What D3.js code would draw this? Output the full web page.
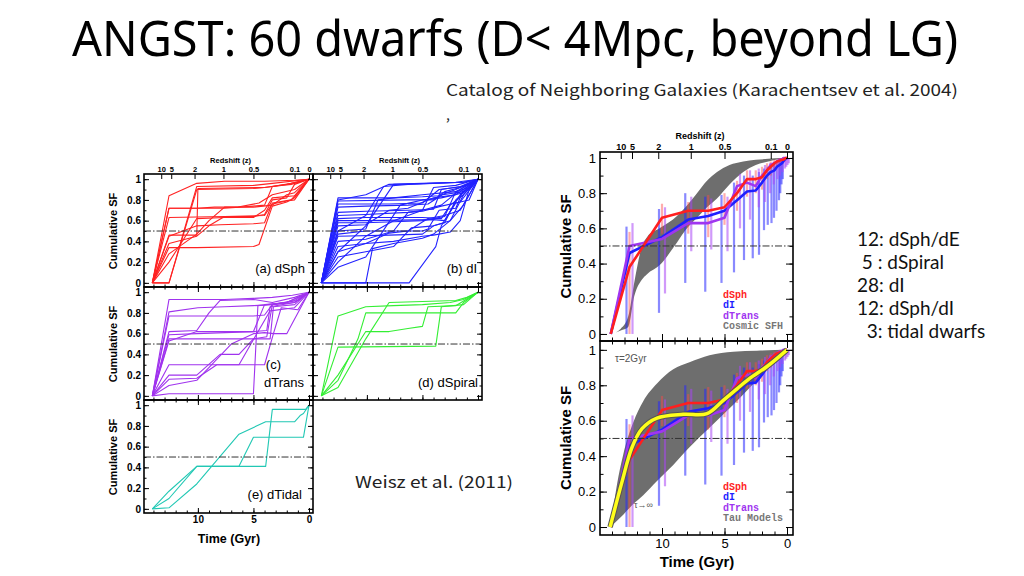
<!DOCTYPE html>
<html><head><meta charset="utf-8">
<script src="https://cdn.jsdelivr.net/npm/d3@7"></script>
<style>body{margin:0;background:#fff}svg{display:block}</style>
</head><body>
<script>
// ================= DATA =================
const redshiftLabels = ["10","5","2","1","0.5","0.1","0"];
const redshiftTimes  = [13.3, 12.4, 10.3, 7.7, 5.0, 1.3, 0];
const timeMajor = [10,5,0];
const sfMajor = [0,0.2,0.4,0.6,0.8,1];
const sfLabels = ["0","0.2","0.4","0.6","0.8","1"];

// individual galaxy cumulative SFHs: [lookback time (Gyr), cumulative SF]
const dSphLines = [
 [[14.1,0],[12.6,0.84],[10.1,0.96],[7.6,0.98],[4,0.98],[1.3,0.99],[0,1]],
 [[14.1,0],[12.6,0.72],[7.6,0.72],[5,0.74],[4,0.75],[3.3,0.93],[1.6,0.95],[0,1]],
 [[14.1,0],[12.6,0.63],[7.6,0.64],[5,0.64],[4,0.66],[3.3,0.8],[2,0.82],[1.3,0.95],[0,1]],
 [[14.1,0],[12.6,0.46],[10.1,0.46],[10,0.91],[4,0.92],[3.3,0.93],[1.6,0.96],[0,1]],
 [[14.1,0],[12.6,0.34],[10.1,0.34],[5,0.35],[4.5,0.37],[3.3,0.74],[2,0.78],[1.3,0.82],[0,1]],
 [[14.1,0],[12.6,0.0],[10.1,0.93],[5,0.94],[3.3,0.96],[0,1]],
 [[14.1,0],[12.6,0.28],[10.1,0.47],[9,0.6],[7.6,0.73],[5,0.73],[3.3,0.75],[2,0.85],[1.3,0.87],[0,1]],
 [[14.1,0],[12.6,0.45],[10.1,0.55],[8,0.56],[5,0.57],[4,0.58],[3.3,0.77],[1.6,0.8],[0.8,0.9],[0,1]],
 [[14.1,0],[12.6,0.2],[10.1,0.62],[7.6,0.63],[5,0.63],[4,0.7],[3.3,0.82],[1.3,0.84],[0,1]],
 [[14.1,0],[12.6,0.0],[10.1,0.9],[5,0.91],[4,0.92],[2,0.95],[0,1]],
 [[14.1,0],[12.6,0.38],[10.1,0.45],[9,0.55],[7.6,0.64],[4,0.65],[3.3,0.76],[2,0.79],[1.3,0.8],[0,1]],
 [[14.1,0],[12.6,0.72],[10.1,0.72],[8.5,0.73],[6.5,0.73],[4.5,0.77],[3.3,0.85],[1.3,0.9],[0,1]]
];
const dILines = [
 [[14.1,0],[12.6,0.82],[7.6,0.82],[5,0.83],[3.5,0.84],[2,0.9],[1,0.95],[0,1]],
 [[14.1,0],[12.6,0.79],[6.3,0.8],[4,0.8],[3,0.88],[1.6,0.92],[0,1]],
 [[14.1,0],[12.6,0.76],[8,0.76],[5,0.77],[3.5,0.9],[1.3,0.93],[0,1]],
 [[14.1,0],[12.6,0.73],[10.1,0.74],[6.3,0.75],[4.5,0.76],[3.2,0.85],[1.3,0.88],[0,1]],
 [[14.1,0],[12.6,0.62],[10.1,0.63],[5,0.63],[3.3,0.62],[2.5,0.75],[1.3,0.85],[0,1]],
 [[14.1,0],[12.6,0.6],[10.1,0.6],[4,0.61],[3,0.6],[2,0.77],[0.8,0.8],[0,1]],
 [[14.1,0],[12.6,0.47],[10.1,0.5],[5,0.5],[4.5,0.52],[3.5,0.7],[2,0.72],[1.3,0.9],[0,1]],
 [[14.1,0],[12.6,0.45],[8,0.46],[5,0.47],[4,0.55],[2.5,0.6],[1.3,0.75],[0,1]],
 [[14.1,0],[12.6,0.2],[10.1,0.45],[7.6,0.6],[5,0.7],[3.3,0.75],[1.6,0.9],[0,1]],
 [[14.1,0],[12.6,0.3],[10.1,0.55],[7.6,0.95],[4,0.96],[1.3,0.97],[0,1]],
 [[14.1,0],[12.6,0.5],[10.1,0.65],[8.5,0.93],[6.3,0.95],[2,0.97],[0,1]],
 [[14.1,0],[12.6,0.4],[10.1,0.42],[7.6,0.5],[6.3,0.68],[5,0.69],[3.3,0.74],[1.6,0.78],[0,1]],
 [[14.1,0],[12.6,0.35],[10.1,0.38],[7.6,0.4],[5,0.45],[4,0.46],[2.5,0.49],[1.6,0.6],[0.8,0.9],[0,1]],
 [[14.1,0],[6.2,0],[3.8,0.35],[3.3,0.55],[1.6,0.85],[0,1]],
 [[14.1,0],[10.1,0],[9.5,0.33],[7.6,0.38],[5,0.43],[4,0.47],[2.5,0.6],[1.3,0.85],[0,1]],
 [[14.1,0],[12.6,0.68],[10.1,0.69],[6.3,0.7],[4,0.71],[3.3,0.9],[1.6,0.93],[0,1]],
 [[14.1,0],[12.6,0.55],[10.1,0.56],[8,0.7],[6.3,0.72],[4,0.82],[2,0.85],[0,1]],
 [[14.1,0],[12.6,0.25],[10.1,0.3],[7.6,0.35],[6,0.53],[4,0.55],[3,0.58],[2,0.8],[0,1]],
 [[14.1,0],[12.6,0.15],[10.1,0.25],[7,0.75],[5,0.8],[3.3,0.82],[1.3,0.87],[0,1]],
 [[14.1,0],[12.6,0.5],[10.1,0.52],[9,0.8],[7.6,0.82],[5,0.85],[2,0.88],[0,1]],
 [[14.1,0],[12.6,0.8],[10.1,0.85],[8,0.95],[5,0.96],[1.3,0.97],[0,1]],
 [[14.1,0],[12.6,0.65],[10.1,0.66],[6.3,0.68],[5,0.7],[4,0.92],[2,0.94],[0,1]],
 [[14.1,0],[12.6,0.58],[10.1,0.58],[7.6,0.59],[5,0.6],[3,0.64],[2,0.88],[0.8,0.92],[0,1]],
 [[14.1,0],[12.6,0.3],[10.1,0.38],[8,0.48],[6.3,0.5],[4.5,0.62],[3,0.65],[1.6,0.7],[0.8,0.85],[0,1]]
];
const dTransLines = [
 [[14.1,0],[12.6,0.93],[7.6,0.93],[5,0.94],[3.3,0.95],[1.5,0.97],[0,1]],
 [[14.1,0],[12.6,0.81],[10,0.85],[7.6,0.86],[5,0.87],[3.3,0.88],[1.3,0.9],[0,1]],
 [[14.1,0],[12.6,0.77],[7.6,0.77],[5,0.77],[4,0.78],[3.3,0.88],[1.3,0.92],[0,1]],
 [[14.1,0],[12.6,0.62],[10.1,0.63],[9,0.8],[8,0.92],[5,0.93],[3.3,0.9],[1.3,0.95],[0,1]],
 [[14.1,0],[12.6,0.59],[10.1,0.6],[5,0.62],[3.8,0.63],[3.5,0.86],[1.3,0.9],[0,1]],
 [[14.1,0],[12.6,0.55],[10.1,0.55],[5,0.55],[3.8,0.57],[3.3,0.88],[1,0.92],[0,1]],
 [[14.1,0],[12.6,0.3],[10.1,0.3],[4,0.3],[3.2,0.6],[2,0.6],[1.5,0.7],[0,1]],
 [[14.1,0],[12.6,0.2],[10.1,0.2],[8,0.4],[6.3,0.4],[5,0.55],[3.5,0.55],[3.2,0.86],[1.3,0.88],[0,1]],
 [[14.1,0],[12.6,0.16],[10.1,0.17],[8.3,0.3],[6.3,0.3],[5.5,0.45],[3.5,0.82],[1.3,0.85],[0,1]],
 [[14.1,0],[12.6,0.02],[5,0.02],[4.6,0.87],[2,0.9],[0,1]],
 [[14.1,0],[12.6,0.53],[10.1,0.62],[8,0.62],[5,0.62],[4,0.88],[2,0.9],[0,1]],
 [[14.1,0],[12.6,0.1],[10.1,0.15],[7,0.5],[5,0.6],[4,0.61],[3.2,0.6],[2.5,0.85],[1,0.83],[0,1]]
];
const dSpiralLines = [
 [[14.1,0],[12.6,0.77],[10.1,0.86],[7.6,0.87],[5,0.88],[2.5,0.9],[1.3,0.93],[0,1]],
 [[14.1,0],[12.6,0.47],[3.8,0.48],[3.3,0.86],[1.3,0.88],[0,1]],
 [[14.1,0],[12.6,0.2],[10.1,0.62],[8,0.62],[6.3,0.65],[5,0.67],[4.5,0.86],[2,0.87],[0,1]],
 [[14.1,0],[12.6,0.15],[10.8,0.55],[10.1,0.8],[5,0.8],[2,0.8],[1.3,0.9],[0,1]],
 [[14.1,0],[12.6,0.08],[10.1,0.55],[8,0.9],[5,0.91],[2,0.92],[1,0.95],[0,1]]
];
const dTidalLines = [
 [[14.1,0],[12.6,0.17],[10.1,0.41],[6.3,0.41],[5,0.69],[0.5,0.69],[0,1]],
 [[14.1,0],[12.6,0.01],[10.1,0.24],[6.3,0.72],[3.9,0.84],[1.3,0.84],[0.8,0.9],[0.5,0.92],[0,1]],
 [[14.1,0],[12.6,0.1],[10.1,0.41],[3.9,0.41],[3.3,0.96],[0.3,0.96],[0,1]]
];

// mean SFHs (right figure)
const meanTimes  = [14.1,12.6,10.0,7.9,6.3,5.0,4.0,3.2,2.5,2.0,1.6,1.3,1.0,0.8,0.6,0.4,0.3,0.2,0.1,0];
const dSphMean   = [0,0.38,0.66,0.70,0.70,0.72,0.80,0.88,0.88,0.89,0.93,0.95,0.97,0.98,0.985,0.99,0.99,0.995,1,1];
const dIMean     = [0,0.46,0.55,0.65,0.67,0.70,0.76,0.81,0.815,0.86,0.90,0.92,0.93,0.95,0.96,0.97,0.98,0.99,0.995,1];
const dTransMean = [0,0.50,0.54,0.63,0.63,0.66,0.84,0.86,0.84,0.90,0.93,0.96,0.97,0.98,0.99,0.99,1,1,1,1];
const dSphErrLo  = [null,0,0.57,0.57,0.55,0.62,0.70,0.78,0.80,0.82,0.88,0.90,0.93,0.95,0.96,0.97,0.98,0.98,0.99,null];
const dSphErrHi  = [null,0.58,0.74,0.75,0.79,0.80,0.87,0.93,0.93,0.95,0.97,0.98,0.99,0.99,1,1,1,1,1,null];
const dIErrLo    = [null,0,0.12,0.29,0.24,0.29,0.35,0.42,0.43,0.45,0.59,0.62,0.63,0.66,0.70,0.76,0.80,0.85,0.88,null];
const dIErrHi    = [null,0.61,0.71,0.80,0.78,0.79,0.86,0.90,0.90,0.92,0.94,0.95,0.96,0.97,0.98,0.99,1,1,1,null];
const dTransErrLo= [null,0,0.23,0.47,0.48,0.47,0.60,0.65,0.72,0.75,0.80,0.85,0.88,0.90,0.92,0.94,0.95,0.96,0.97,null];
const dTransErrHi= [null,0.63,0.72,0.78,0.77,0.78,0.91,0.93,0.94,0.96,0.97,0.98,0.99,0.99,1,1,1,1,1,null];

// Cosmic SFH band
const cosmicTimes = [14.1,13.3,12.7,12.2,11.6,11.2,10.2,8.8,8.0,7.2,6.4,5.6,4.6,3.5,2.5,1.5,0.5,0];
const cosmicUpper = [0,0.03,0.10,0.30,0.50,0.55,0.60,0.67,0.73,0.80,0.87,0.92,0.96,0.98,0.99,0.995,1,1];
const cosmicLower = [0,0.02,0.04,0.22,0.31,0.34,0.39,0.52,0.60,0.66,0.72,0.77,0.85,0.92,0.96,0.98,0.995,1];

// Tau models band
const tauTimes = [14.1,13.6,13.1,12.3,11.5,10.4,9.1,7.8,6.2,4.3,2.4,0];
const tauUpper = [0,0.24,0.41,0.59,0.71,0.81,0.89,0.93,0.97,0.99,0.995,1];
const tauLower = [0,0.035,0.07,0.13,0.18,0.26,0.35,0.45,0.56,0.69,0.83,1];

// best fit (yellow)
const fitTimes  = [14.15,13.2,12.4,11.6,10.4,8.3,6.4,5.1,4.0,2.96,1.6,0];
const fitValues = [0,0.255,0.45,0.555,0.615,0.636,0.64,0.715,0.78,0.84,0.906,1];

const dwarfCounts = ["12: dSph/dE"," 5 : dSpiral","28: dI","12: dSph/dI","  3: tidal dwarfs"];

// ================= DRAW =================
const W = 1024, H = 576;
const svg = d3.select("body").append("svg").attr("width", W).attr("height", H);
const FIG = "'Liberation Sans', Arial, sans-serif";
const KR = "'Noto Sans CJK KR', 'Noto Sans', sans-serif";
const MONO = "'Liberation Mono', 'DejaVu Sans Mono', monospace";

// slide text
svg.append("text").attr("x", 72).attr("y", 56).attr("font-family", "'Noto Sans', sans-serif").attr("font-size", 50)
  .attr("textLength", 886).attr("lengthAdjust", "spacingAndGlyphs").attr("fill", "#000")
  .text("ANGST: 60 dwarfs (D< 4Mpc, beyond LG)");
svg.append("text").attr("x", 446).attr("y", 96).attr("font-family", KR).attr("font-size", 16)
  .attr("textLength", 512).attr("lengthAdjust", "spacingAndGlyphs").attr("fill", "#222")
  .text("Catalog of Neighboring Galaxies (Karachentsev et al. 2004)");
svg.append("text").attr("x", 446).attr("y", 120).attr("font-family", KR).attr("font-size", 14).attr("fill", "#222").text(",");
svg.append("text").attr("x", 355).attr("y", 488).attr("font-family", KR).attr("font-size", 16)
  .attr("textLength", 158).attr("lengthAdjust", "spacingAndGlyphs").attr("fill", "#222").text("Weisz et al. (2011)");
dwarfCounts.forEach((t, i) => {
  svg.append("text").attr("x", 857).attr("y", 246 + i * 23).attr("font-family", "Lato, 'Noto Sans', sans-serif").attr("font-size", 19)
    .attr("fill", "#111").style("white-space", "pre").text(t);
});

function styleAxis(a, fs, weight) {
  a.select(".domain").remove();
  a.selectAll("line").attr("stroke", "#000").attr("stroke-width", 1);
  a.selectAll("text").attr("font-family", FIG).attr("font-size", fs).attr("font-weight", weight).attr("fill", "#000");
}

function frameAxes(g, x, y, o) {
  const [xl, xr] = x.range(), [yb, yt] = y.range();
  const minorX = d3.range(0, 15, 1), minorY = d3.range(0, 1.001, 0.1);
  const sides = [
    {gen: d3.axisLeft, s: y, tr: `translate(${xl},0)`, maj: sfMajor, min: minorY, lab: o.leftLabels ? ((d, i) => sfLabels[i]) : null},
    {gen: d3.axisRight, s: y, tr: `translate(${xr},0)`, maj: sfMajor, min: minorY, lab: null},
    {gen: d3.axisBottom, s: x, tr: `translate(0,${yb})`, maj: timeMajor, min: minorX, lab: o.bottomLabels ? (d => d) : null},
  ];
  if (!o.redshift) sides.push({gen: d3.axisTop, s: x, tr: `translate(0,${yt})`, maj: timeMajor, min: minorX, lab: null});
  sides.forEach(sd => {
    const mn = sd.gen(sd.s).tickValues(sd.min).tickSizeInner(-o.minLen).tickSizeOuter(0).tickFormat("");
    styleAxis(g.append("g").attr("transform", sd.tr).call(mn), o.fs, o.fw);
    const mj = sd.gen(sd.s).tickValues(sd.maj).tickSizeInner(-o.majLen).tickSizeOuter(0).tickPadding(o.pad)
      .tickFormat(sd.lab ? sd.lab : "");
    styleAxis(g.append("g").attr("transform", sd.tr).call(mj), o.fs, o.fw);
  });
  if (o.redshift) {
    const zt = d3.axisTop(x).tickValues(redshiftTimes).tickSizeInner(-o.majLen).tickSizeOuter(0).tickPadding(2)
      .tickFormat((d, i) => redshiftLabels[i]);
    const za = g.append("g").attr("transform", `translate(0,${yt})`).call(zt);
    styleAxis(za, o.zfs, "bold");
    g.append("text").attr("x", (xl + xr) / 2 + o.zdx).attr("y", yt - o.zfs - 4).attr("text-anchor", "middle")
      .attr("font-family", FIG).attr("font-size", o.zfs).attr("font-weight", "bold").text("Redshift (z)");
  }
  g.append("line").attr("x1", xl).attr("x2", xr).attr("y1", y(0.5)).attr("y2", y(0.5))
    .attr("stroke", "#333").attr("stroke-width", 1).attr("stroke-dasharray", "7,2,1.5,2");
  g.append("rect").attr("x", xl).attr("y", yt).attr("width", xr - xl).attr("height", yb - yt)
    .attr("fill", "none").attr("stroke", "#000").attr("stroke-width", 1.6);
}

// ---- Left figure ----
const leftPanels = [
  {lines: dSphLines, color: "#ff2222", x0: 144, y0: 174, top: true, left: true, bottom: false, labels: [["(a) dSph", 305, 273]]},
  {lines: dILines, color: "#2222ff", x0: 313, y0: 174, top: true, left: false, bottom: false, labels: [["(b) dI", 477, 273]]},
  {lines: dTransLines, color: "#a033ee", x0: 144, y0: 287, top: false, left: true, bottom: false, labels: [["(c)", 281, 369], ["dTrans", 304, 387]]},
  {lines: dSpiralLines, color: "#33ee33", x0: 313, y0: 287, top: false, left: false, bottom: false, labels: [["(d) dSpiral", 478, 387]]},
  {lines: dTidalLines, color: "#22c8b4", x0: 144, y0: 400, top: false, left: true, bottom: true, labels: [["(e) dTidal", 302, 499]]},
];
leftPanels.forEach(p => {
  const x = d3.scaleLinear().domain([14.85, -0.36]).range([p.x0, p.x0 + 169]);
  const y = d3.scaleLinear().domain([-0.04, 1.05]).range([p.y0 + 113, p.y0]);
  const g = svg.append("g");
  const line = d3.line().x(d => x(d[0])).y(d => y(d[1]));
  g.selectAll("path.sfh").data(p.lines).join("path").attr("class", "sfh").attr("d", line)
    .attr("fill", "none").attr("stroke", p.color).attr("stroke-width", 1.1).attr("stroke-linejoin", "round");
  frameAxes(g, x, y, {leftLabels: p.left, bottomLabels: p.bottom, redshift: p.top, minLen: 2.5, majLen: 5, pad: 3,
    fs: 10, fw: "bold", zfs: 7.5, zdx: 2});
  p.labels.forEach(l => g.append("text").attr("x", l[1]).attr("y", l[2]).attr("text-anchor", "end")
    .attr("font-family", FIG).attr("font-size", 13).attr("fill", "#000").text(l[0]));
  if (p.left) {
    g.append("text").attr("transform", `translate(117,${p.y0 + 57}) rotate(-90)`).attr("text-anchor", "middle")
      .attr("font-family", FIG).attr("font-size", 11).attr("font-weight", "bold").text("Cumulative SF");
  }
});
svg.append("text").attr("x", 229).attr("y", 543).attr("text-anchor", "middle").attr("font-family", FIG)
  .attr("font-size", 12.5).attr("font-weight", "bold").text("Time (Gyr)");

// ---- Right figure ----
const rightPanels = [
  {y0: 152, y1: 341, dom: [-0.04, 1.034], band: [cosmicTimes, cosmicUpper, cosmicLower], top: true, legend: "Cosmic SFH", ly: 298},
  {y0: 341, y1: 535, dom: [-0.045, 1.05], band: [tauTimes, tauUpper, tauLower], top: false, legend: "Tau Models", ly: 490},
];
const series = [
  {mean: dIMean, lo: dIErrLo, hi: dIErrHi, color: "#1f1fff", err: "rgba(40,40,255,0.55)", dx: -3},
  {mean: dTransMean, lo: dTransErrLo, hi: dTransErrHi, color: "#a035f0", err: "rgba(170,70,245,0.55)", dx: 3},
  {mean: dSphMean, lo: dSphErrLo, hi: dSphErrHi, color: "#ff1f1f", err: "rgba(255,70,70,0.45)", dx: 0},
];
rightPanels.forEach(p => {
  const x = d3.scaleLinear().domain([14.96, -0.48]).range([600, 793]);
  const y = d3.scaleLinear().domain(p.dom).range([p.y1, p.y0]);
  const g = svg.append("g");
  const [bt, bu, bl] = p.band;
  const area = d3.area().x((d, i) => x(bt[i])).y0((d, i) => y(bl[i])).y1((d, i) => y(bu[i])).curve(d3.curveMonotoneX);
  g.append("path").attr("d", area(bt)).attr("fill", "#6e6e6e");
  series.forEach(s => {
    const idx = meanTimes.map((t, i) => i).filter(i => s.lo[i] !== null);
    g.selectAll(null).data(idx).join("line")
      .attr("x1", i => x(meanTimes[i]) + s.dx).attr("x2", i => x(meanTimes[i]) + s.dx)
      .attr("y1", i => y(s.lo[i])).attr("y2", i => y(s.hi[i]))
      .attr("stroke", s.err).attr("stroke-width", 2.2);
  });
  series.forEach(s => {
    const line = d3.line().x((d, i) => x(meanTimes[i])).y(d => y(d));
    g.append("path").attr("d", line(s.mean)).attr("fill", "none").attr("stroke", s.color)
      .attr("stroke-width", 2.6).attr("stroke-linejoin", "round");
  });
  if (!p.top) {
    const fl = d3.line().x((d, i) => x(fitTimes[i])).y(d => y(d)).curve(d3.curveCatmullRom.alpha(0.5));
    g.append("path").attr("d", fl(fitValues)).attr("fill", "none").attr("stroke", "#555").attr("stroke-width", 5.5);
    g.append("path").attr("d", fl(fitValues)).attr("fill", "none").attr("stroke", "#ffff1a").attr("stroke-width", 3.5);
    g.append("text").attr("x", 615).attr("y", 362).attr("font-family", FIG).attr("font-size", 10).attr("fill", "#555").text("τ=2Gyr");
    g.append("text").attr("x", 634).attr("y", 508).attr("font-family", FIG).attr("font-size", 9).attr("fill", "#555").text("τ→∞");
  }
  frameAxes(g, x, y, {leftLabels: true, bottomLabels: !p.top, redshift: p.top, minLen: 3.5, majLen: 7, pad: 4,
    fs: 13, fw: "normal", zfs: 9, zdx: 3.5});
  const leg = [["dSph", "#ff1f1f"], ["dI", "#1f1fff"], ["dTrans", "#a035f0"], [p.legend, "#777"]];
  leg.forEach((l, i) => g.append("text").attr("x", 723).attr("y", p.ly + i * 10.3).attr("font-family", MONO)
    .attr("font-size", 10).attr("font-weight", "bold").attr("fill", l[1]).text(l[0]));
  g.append("text").attr("transform", `translate(571,${(p.y0 + p.y1) / 2}) rotate(-90)`).attr("text-anchor", "middle")
    .attr("font-family", FIG).attr("font-size", 15).attr("font-weight", "bold").text("Cumulative SF");
});
svg.append("text").attr("x", 697).attr("y", 567).attr("text-anchor", "middle").attr("font-family", FIG)
  .attr("font-size", 15).attr("font-weight", "bold").text("Time (Gyr)");
</script>
</body></html>
